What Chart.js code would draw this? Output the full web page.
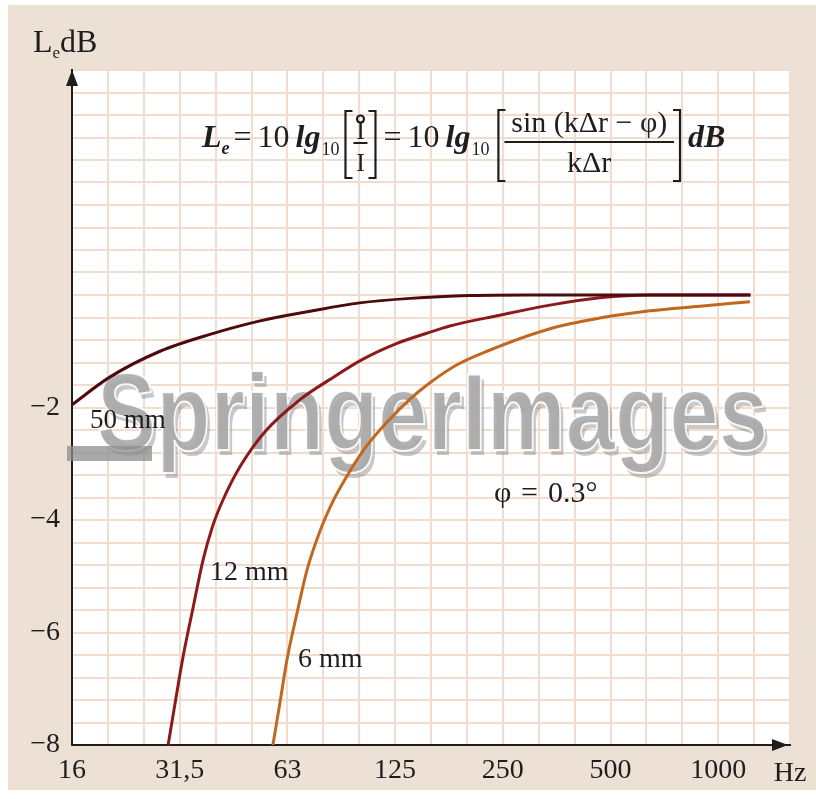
<!DOCTYPE html>
<html>
<head>
<meta charset="utf-8">
<script src="https://cdn.jsdelivr.net/npm/chart.js@4.4.1/dist/chart.umd.min.js"></script>
<style>
  html, body { margin: 0; padding: 0; background: #fff; }
</style>
</head>
<body>
<canvas id="chart" width="816" height="799"></canvas>
<script>
// octave tick labels on the frequency axis (Hz)
const octaveLabels = ['16', '31,5', '63', '125', '250', '500', '1000'];
// level tick labels (dB)
const levelLabels = [-2, -4, -6, -8];

// 50 mm spacing
const freq50 = [16, 20.4, 28.2, 38.9, 53.7, 74, 102, 141, 207, 300, 600, 1260];
const level50 = [-1.95, -1.46, -1.0, -0.70, -0.46, -0.29, -0.14, -0.06, -0.01, 0, 0, 0];

// 12 mm spacing
const freq12 = [29.7, 31.0, 32.7, 34.9, 37.2, 39.6, 42.3, 47.2, 55.4, 69.4, 84.2, 104.1, 129.6, 157, 182, 251, 347, 478, 660, 1260];
const level12 = [-8, -7.29, -6.43, -5.55, -4.71, -4.1, -3.64, -3.05, -2.43, -1.86, -1.50, -1.14, -0.86, -0.68, -0.55, -0.36, -0.18, -0.05, 0, 0];

// 6 mm spacing
const freq6 = [58.3, 61.0, 63.8, 68.1, 72.6, 78.9, 85.3, 89.8, 104.1, 121.5, 140.9, 160.2, 190.7, 231.2, 346.9, 478, 660, 911, 1256];
const level6 = [-8, -7.25, -6.49, -5.65, -4.89, -4.20, -3.70, -3.43, -2.77, -2.26, -1.85, -1.56, -1.24, -1.0, -0.60, -0.41, -0.28, -0.20, -0.12];

const serif = '"Liberation Serif", "DejaVu Serif", serif';
const gridColor = '#f1dccd';
const inkColor = '#1e1e1e';

// grid every third of an octave, every 0.4 dB
const xGrid = [];
for (let i = 0; i <= 20; i++) xGrid.push(16 * Math.pow(2, i / 3));
const yGrid = [];
for (let i = 0; i <= 30; i++) yGrid.push(Math.round((-8 + i * 0.4) * 10) / 10);

const toPoints = (xs, ys) => xs.map((x, i) => ({ x: x, y: ys[i] }));

function put(ctx, text, font, x, y, maxW) {
    ctx.font = font;
    if (maxW) ctx.fillText(text, x, y, maxW);
    else ctx.fillText(text, x, y);
    return x + ctx.measureText(text).width;
}

function bracket(ctx, x, top, bottom, dir) {
    ctx.beginPath();
    ctx.moveTo(x + dir * 7, top);
    ctx.lineTo(x, top);
    ctx.lineTo(x, bottom);
    ctx.lineTo(x + dir * 7, bottom);
    ctx.stroke();
}

const decor = {
    id: 'decor',
    beforeDraw(chart) {
        const ctx = chart.ctx, a = chart.chartArea;
        ctx.save();
        ctx.fillStyle = '#ffffff';
        ctx.fillRect(0, 0, chart.width, chart.height);
        ctx.fillStyle = '#ede0d5';
        ctx.fillRect(8, 5, chart.width - 8, 785);
        ctx.fillStyle = '#ffffff';
        ctx.fillRect(a.left, a.top, a.right - a.left, a.bottom - a.top);
        ctx.restore();
    },
    beforeDatasetsDraw(chart) {
        // watermark
        const ctx = chart.ctx;
        ctx.save();
        ctx.font = 'bold 110px "Liberation Sans", Arial, sans-serif';
        const w = ctx.measureText('SpringerImages').width;
        ctx.translate(97, 450);
        ctx.scale(671 / w, 1);
        ctx.fillStyle = 'rgba(120,120,120,0.4)';
        ctx.fillText('SpringerImages', 4, 5);
        ctx.fillStyle = 'rgba(170,170,170,0.9)';
        ctx.fillText('SpringerImages', 0, 0);
        ctx.strokeStyle = 'rgba(255,255,255,0.9)';
        ctx.lineWidth = 2;
        ctx.strokeText('SpringerImages', 0, 0);
        ctx.restore();
        ctx.save();
        ctx.fillStyle = 'rgba(140,140,140,0.75)';
        ctx.fillRect(67, 446, 85, 15);
        ctx.restore();
    },
    afterDraw(chart) {
        const ctx = chart.ctx, a = chart.chartArea;
        ctx.save();
        ctx.fillStyle = inkColor;
        ctx.strokeStyle = inkColor;
        // arrow heads
        ctx.beginPath();
        ctx.moveTo(a.left, a.top);
        ctx.lineTo(a.left - 6, a.top + 16);
        ctx.lineTo(a.left + 6, a.top + 16);
        ctx.closePath();
        ctx.fill();
        ctx.beginPath();
        ctx.moveTo(a.right - 2, a.bottom);
        ctx.lineTo(a.right - 18, a.bottom - 6);
        ctx.lineTo(a.right - 18, a.bottom + 6);
        ctx.closePath();
        ctx.fill();

        ctx.textBaseline = 'alphabetic';
        ctx.textAlign = 'left';
        // axis titles
        let x = put(ctx, 'L', '32px ' + serif, 33, 52);
        x = put(ctx, 'e', '17px ' + serif, x, 58);
        put(ctx, 'dB', '32px ' + serif, x, 52);
        ctx.textAlign = 'center';
        put(ctx, 'Hz', '28px ' + serif, 790, 781);

        // curve labels
        ctx.textAlign = 'left';
        put(ctx, '50 mm', '27px ' + serif, 90, 428, 80);
        put(ctx, '12 mm', '28px ' + serif, 210, 580, 80);
        put(ctx, '6 mm', '28px ' + serif, 298, 667, 67);
        put(ctx, 'φ', '30px ' + serif, 494, 502);
        put(ctx, '=', '30px ' + serif, 521, 502);
        put(ctx, '0.3°', '30px ' + serif, 548, 502, 58);

        // formula
        const base = 147;
        const big = '32px ' + serif, sub = '18px ' + serif, it = 'italic bold 32px ' + serif;
        ctx.lineWidth = 2.2;
        x = put(ctx, 'L', it, 202, base);
        x = put(ctx, 'e', 'italic bold 18px ' + serif, x, base + 7) + 4;
        x = put(ctx, '=', big, x, base) + 6;
        x = put(ctx, '10', big, x, base) + 6;
        x = put(ctx, 'lg', it, x, base) + 1;
        x = put(ctx, '10', sub, x, base + 8) + 6;
        bracket(ctx, x, 111, 178, 1);
        ctx.textAlign = 'center';
        put(ctx, 'I', '26px ' + serif, x + 15, 139);
        ctx.beginPath();
        ctx.arc(x + 15, 119, 3.5, 0, Math.PI * 2);
        ctx.stroke();
        ctx.fillRect(x + 8, 142, 14, 2);
        put(ctx, 'I', '26px ' + serif, x + 15, 171);
        bracket(ctx, x + 30, 111, 178, -1);
        ctx.textAlign = 'left';
        x += 38;
        x = put(ctx, '=', big, x, base) + 6;
        x = put(ctx, '10', big, x, base) + 6;
        x = put(ctx, 'lg', it, x, base) + 1;
        x = put(ctx, '10', sub, x, base + 8) + 9;
        const right = 680;
        bracket(ctx, x, 110, 181, 1);
        ctx.textAlign = 'center';
        const mid = (x + right) / 2;
        put(ctx, 'sin (kΔr − φ)', '30px ' + serif, mid, 132, right - x - 12);
        ctx.fillRect(x + 6, 141, right - x - 12, 2);
        put(ctx, 'kΔr', '30px ' + serif, mid, 172);
        bracket(ctx, right, 110, 181, -1);
        ctx.textAlign = 'left';
        put(ctx, 'dB', it, 688, base, 38);
        ctx.restore();
    }
};

new Chart(document.getElementById('chart'), {
    type: 'line',
    data: {
        datasets: [
            { label: '50 mm', data: toPoints(freq50, level50), borderColor: '#4c0a0c' },
            { label: '12 mm', data: toPoints(freq12, level12), borderColor: '#8c1a1c' },
            { label: '6 mm', data: toPoints(freq6, level6), borderColor: '#c2671f' }
        ].map(d => Object.assign(d, {
            borderWidth: 3,
            pointRadius: 0,
            fill: false,
            cubicInterpolationMode: 'monotone'
        }))
    },
    options: {
        responsive: false,
        animation: false,
        layout: { padding: { top: 70, right: 26, left: 0, bottom: 0 } },
        plugins: { legend: { display: false }, tooltip: { enabled: false } },
        scales: {
            x: {
                type: 'logarithmic',
                min: 16,
                max: 16 * Math.pow(2, 20 / 3),
                afterBuildTicks: s => { s.ticks = xGrid.map(v => ({ value: v })); },
                afterFit: s => { s.height = 54; },
                grid: { color: gridColor, lineWidth: 2, drawTicks: false },
                border: { color: inkColor, width: 2 },
                ticks: {
                    autoSkip: false,
                    maxRotation: 0,
                    padding: 9,
                    color: inkColor,
                    font: { family: serif, size: 28 },
                    callback: (v, i) => (i % 3 === 0 ? octaveLabels[i / 3] : '')
                }
            },
            y: {
                type: 'linear',
                min: -8,
                max: 4,
                afterBuildTicks: s => { s.ticks = yGrid.map(v => ({ value: v })); },
                afterFit: s => { s.width = 72; },
                grid: { color: gridColor, lineWidth: 2, drawTicks: false },
                border: { color: inkColor, width: 2 },
                ticks: {
                    autoSkip: false,
                    padding: 12,
                    color: inkColor,
                    font: { family: serif, size: 28 },
                    callback: v => (levelLabels.includes(v) ? '−' + Math.abs(v) : '')
                }
            }
        }
    },
    plugins: [decor]
});
</script>
</body>
</html>
